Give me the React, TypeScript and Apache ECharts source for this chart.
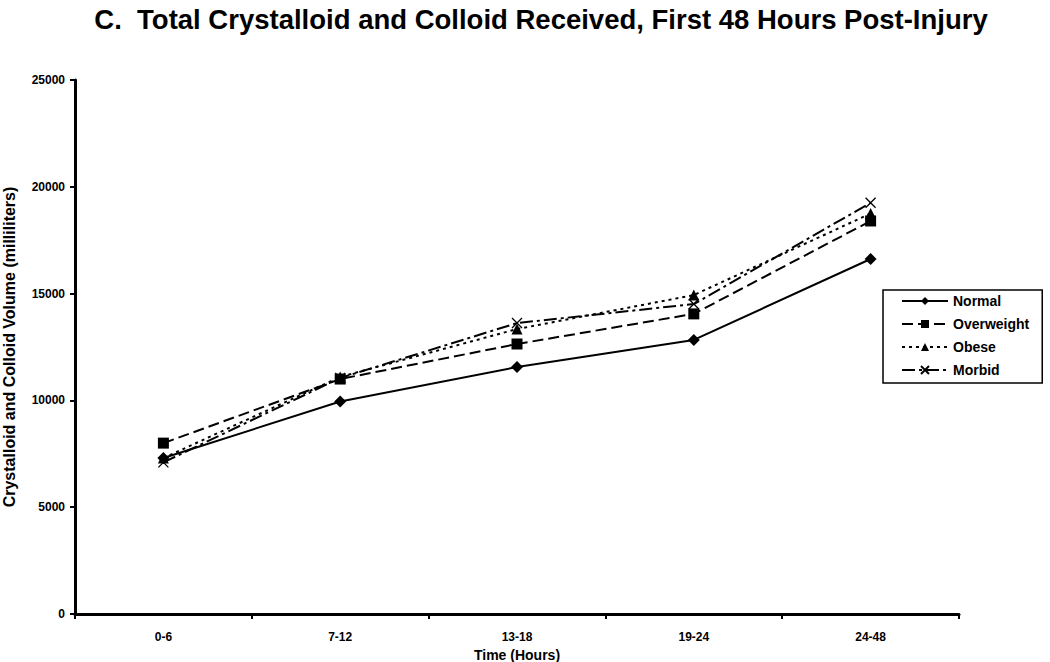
import React, { useEffect, useRef } from "react";
import * as echarts from "echarts";

const categories = ["0-6", "7-12", "13-18", "19-24", "24-48"];
const normal = [7300, 9950, 11560, 12830, 16620];
const overweight = [8000, 11000, 12640, 14050, 18400];
const obese = [7300, 11100, 13340, 14930, 18750];
const morbid = [7100, 11050, 13620, 14510, 19250];
const yTicks = [0, 5000, 10000, 15000, 20000, 25000];

const NARROW = "'Liberation Sans Narrow', 'Arial Narrow', 'Liberation Sans', Arial, sans-serif";
const SANS = "'Liberation Sans', Arial, sans-serif";
const XPATH = "path://M0,0L10,10M10,0L0,10";

export default function App() {
  const ref = useRef<HTMLDivElement>(null);
  useEffect(() => {
    document.body.style.margin = "0";
    if (!ref.current) return;
    const chart = echarts.init(ref.current, null, { renderer: "svg" });
    const mk = (name: string, data: number[], symbol: string, size: number, dash: any) => ({
      name,
      type: "line",
      data,
      symbol,
      symbolSize: size,
      showSymbol: true,
      lineStyle: { color: "#000", width: 2, type: dash },
      itemStyle: {
        color: "#000",
        borderColor: "#000",
        borderWidth: symbol === XPATH ? 1.3 : 0,
      },
      z: 3,
    });
    chart.setOption({
      animation: false,
      backgroundColor: "#fff",
      title: {
        text: "C.  Total Crystalloid and Colloid Received, First 48 Hours Post-Injury",
        left: 536,
        textAlign: "center",
        top: 0,
        textStyle: { fontFamily: SANS, fontWeight: "bold", fontSize: 27.5, color: "#000" },
      },
      grid: {
        left: 75,
        right: 91,
        top: 80,
        bottom: 48,
        containLabel: false,
        outerBoundsMode: "none",
      },
      legend: {
        orient: "vertical",
        left: 883,
        top: 290,
        itemWidth: 46,
        itemHeight: 10,
        itemGap: 9,
        padding: [4, 13, 6, 18],
        borderColor: "#000",
        borderWidth: 1.5,
        backgroundColor: "#fff",
        textStyle: { fontFamily: SANS, fontWeight: "bold", fontSize: 14, color: "#000" },
        data: ["Normal", "Overweight", "Obese", "Morbid"],
      },
      xAxis: {
        type: "category",
        data: categories,
        boundaryGap: true,
        name: "Time (Hours)",
        nameLocation: "middle",
        nameGap: 32,
        nameTextStyle: { fontFamily: NARROW, fontWeight: "bold", fontSize: 14, color: "#000" },
        axisLine: { lineStyle: { color: "#000", width: 3 } },
        axisTick: { show: true, inside: false, length: 5, lineStyle: { color: "#000", width: 2 } },
        axisLabel: { fontFamily: NARROW, fontWeight: "bold", fontSize: 12, color: "#000", margin: 17 },
        splitLine: { show: false },
      },
      yAxis: {
        type: "value",
        min: yTicks[0],
        max: yTicks[yTicks.length - 1],
        interval: 5000,
        name: "Crystalloid and Colloid Volume (milliliters)",
        nameLocation: "middle",
        nameGap: 58,
        nameTextStyle: { fontFamily: NARROW, fontWeight: "bold", fontSize: 16, color: "#000" },
        axisLine: { show: true, lineStyle: { color: "#000", width: 3 } },
        axisTick: { show: true, inside: false, length: 5, lineStyle: { color: "#000", width: 2 } },
        axisLabel: {
          fontFamily: NARROW,
          fontWeight: "bold",
          fontSize: 12,
          color: "#000",
          margin: 10,
          formatter: (v: number) => String(v),
        },
        splitLine: { show: false },
      },
      series: [
        mk("Normal", normal, "diamond", 12, "solid"),
        mk("Overweight", overweight, "rect", 11, [11, 5]),
        mk("Obese", obese, "triangle", 11, [3, 4]),
        mk("Morbid", morbid, XPATH, 10, [13, 4, 3, 4]),
      ],
    });
    return () => chart.dispose();
  }, []);
  return <div ref={ref} style={{ width: 1050, height: 662 }} />;
}
